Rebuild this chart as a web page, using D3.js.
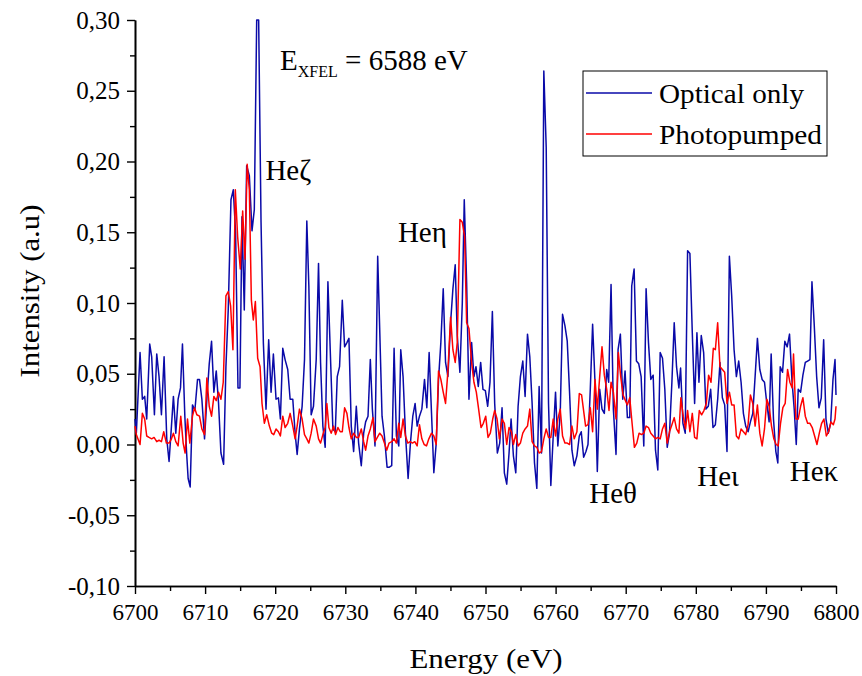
<!DOCTYPE html>
<html><head><meta charset="utf-8">
<script src="https://cdn.jsdelivr.net/npm/d3@7"></script>
<style>
body{margin:0;background:#fff}
svg text{font-family:"Liberation Serif","Times New Roman",serif !important;fill:#000}
</style>
</head><body>
<svg id="chart" width="862" height="676"></svg>
<script>
const optEnergy=[6700.00,6700.19,6700.72,6701.05,6701.38,6701.67,6702.10,6702.38,6702.77,6703.10,6703.43,6703.77,6704.15,6704.53,6704.86,6705.20,6705.48,6705.82,6706.15,6706.49,6706.77,6707.11,6707.34,6707.58,6707.87,6708.20,6708.54,6708.92,6709.20,6709.54,6709.92,6710.25,6710.59,6710.92,6711.25,6711.59,6711.92,6712.26,6712.64,6712.97,6713.30,6713.69,6714.02,6714.35,6714.69,6714.97,6715.26,6715.59,6715.93,6716.31,6716.69,6717.02,6717.36,6717.64,6717.98,6718.31,6718.69,6719.07,6719.41,6719.74,6720.12,6720.46,6720.74,6721.08,6721.41,6721.79,6722.13,6722.51,6722.84,6723.13,6723.46,6723.84,6724.18,6724.51,6724.80,6725.13,6725.46,6725.85,6726.18,6726.47,6726.80,6727.13,6727.52,6727.85,6728.23,6728.57,6728.85,6729.18,6729.57,6729.90,6730.23,6730.52,6730.85,6731.19,6731.57,6731.90,6732.28,6732.62,6732.90,6733.24,6733.57,6733.86,6734.24,6734.62,6734.91,6735.24,6735.58,6735.96,6736.29,6736.62,6736.96,6737.29,6737.63,6737.91,6738.24,6738.58,6738.96,6739.29,6739.63,6739.96,6740.25,6740.58,6740.92,6741.30,6741.63,6741.96,6742.30,6742.63,6742.97,6743.30,6743.63,6743.97,6744.30,6744.64,6745.02,6745.35,6745.68,6745.97,6746.35,6746.69,6746.97,6747.31,6747.64,6748.02,6748.35,6748.64,6748.97,6749.31,6749.64,6749.98,6750.31,6750.64,6750.98,6751.31,6751.69,6752.03,6752.36,6752.69,6753.03,6753.36,6753.65,6753.98,6754.32,6754.65,6754.98,6755.32,6755.65,6755.99,6756.32,6756.65,6756.99,6757.32,6757.65,6757.99,6758.32,6758.66,6758.99,6759.32,6759.66,6759.99,6760.32,6760.66,6760.99,6761.33,6761.66,6761.99,6762.33,6762.66,6763.04,6763.38,6763.66,6764.00,6764.33,6764.62,6764.95,6765.28,6765.62,6765.95,6766.29,6766.62,6766.95,6767.29,6767.57,6767.91,6768.24,6768.62,6768.91,6769.24,6769.58,6769.91,6770.24,6770.58,6770.86,6771.20,6771.53,6771.86,6772.20,6772.58,6772.91,6773.25,6773.58,6773.92,6774.25,6774.58,6774.92,6775.25,6775.58,6775.92,6776.25,6776.59,6776.92,6777.25,6777.59,6777.83,6778.16,6778.49,6778.83,6779.16,6779.50,6779.83,6780.16,6780.45,6780.78,6781.12,6781.45,6781.78,6782.12,6782.45,6782.79,6783.12,6783.45,6783.79,6784.12,6784.45,6784.79,6785.12,6785.46,6785.79,6786.12,6786.46,6786.79,6787.12,6787.46,6787.79,6788.13,6788.46,6788.79,6789.13,6789.46,6789.80,6790.13,6790.46,6790.75,6791.08,6791.42,6791.70,6792.04,6792.37,6792.70,6793.04,6793.37,6793.71,6794.04,6794.33,6794.61,6794.95,6795.28,6795.62,6795.95,6796.28,6796.57,6796.90,6797.24,6797.57,6797.90,6798.24,6798.57,6798.90,6799.24,6799.57,6799.86,6800.00];
const optIntensity=[0.018,0.008,0.065,0.032,0.034,0.018,0.071,0.062,0.021,0.064,0.048,0.021,0.062,0.004,-0.012,0.013,0.034,0.008,0.032,0.040,0.071,0.020,-0.004,-0.024,-0.030,0.028,0.024,0.046,0.046,0.032,0.004,0.032,0.057,0.073,0.037,0.052,0.029,-0.006,-0.014,0.055,0.095,0.173,0.180,0.150,0.040,0.040,0.161,0.095,0.197,0.190,0.151,0.166,0.300,0.300,0.157,0.072,0.025,0.074,0.037,0.064,0.032,0.033,0.018,0.068,0.060,0.053,0.032,0.032,0.008,-0.007,0.011,0.027,0.060,0.158,0.112,0.021,0.027,0.060,0.128,0.058,0.013,-0.002,0.115,0.067,0.011,0.009,0.048,0.055,0.102,0.069,0.072,0.075,0.013,-0.005,0.027,0.001,-0.015,0.008,0.016,0.020,0.060,0.025,-0.001,0.133,0.081,0.020,0.006,-0.016,-0.016,-0.015,0.068,0.006,-0.001,0.067,0.048,0.008,-0.024,0.001,0.020,0.029,0.013,0.020,0.025,0.046,0.026,0.065,0.022,-0.020,0.001,0.046,0.072,0.110,0.058,0.048,0.086,0.110,0.127,0.077,0.051,0.100,0.173,0.114,0.032,0.072,0.048,0.055,0.041,0.058,0.039,0.038,0.027,0.044,0.094,0.029,-0.006,0.001,0.026,-0.020,-0.028,-0.006,0.018,-0.008,-0.020,0.027,0.048,0.059,0.034,0.078,0.062,0.029,-0.013,-0.031,0.041,-0.006,0.264,0.210,0.029,-0.029,0.006,0.037,-0.001,0.022,0.092,0.084,0.073,0.037,-0.004,-0.015,-0.008,0.006,0.009,-0.009,-0.005,0.000,0.039,0.085,0.044,-0.019,0.039,0.025,0.022,0.053,0.044,0.113,0.025,-0.007,0.067,0.078,0.032,0.052,0.019,0.019,0.112,0.124,0.059,0.057,0.048,-0.001,0.110,0.072,0.046,0.049,-0.004,-0.018,0.065,0.061,0.039,-0.002,0.008,0.044,0.086,0.055,0.040,0.054,0.015,0.008,0.137,0.135,0.079,0.029,0.079,0.044,0.077,0.065,0.025,0.027,0.039,0.012,0.014,0.032,0.058,0.033,0.028,-0.005,0.133,0.105,0.067,0.048,0.059,0.044,0.022,0.013,0.009,0.016,0.022,0.048,0.075,0.053,0.046,0.044,0.029,0.016,0.064,0.018,-0.005,-0.013,0.055,0.051,0.073,0.069,0.078,0.046,0.025,0.000,0.039,0.037,0.049,0.058,0.059,0.060,0.115,0.084,0.048,0.026,0.033,0.074,0.018,0.008,0.015,0.046,0.060,0.035];
const pumpEnergy=[6700.00,6700.19,6700.72,6701.05,6701.38,6701.67,6702.00,6702.38,6702.72,6703.10,6703.43,6703.77,6704.10,6704.48,6704.86,6705.20,6705.48,6705.82,6706.15,6706.53,6706.87,6707.15,6707.49,6707.82,6708.20,6708.49,6708.82,6709.20,6709.54,6709.92,6710.25,6710.59,6710.92,6711.25,6711.59,6711.92,6712.26,6712.59,6712.97,6713.30,6713.64,6713.97,6714.31,6714.64,6715.02,6715.36,6715.69,6716.00,6716.31,6716.60,6716.88,6717.17,6717.50,6717.84,6718.12,6718.45,6718.79,6719.17,6719.50,6719.79,6720.12,6720.46,6720.74,6721.08,6721.41,6721.79,6722.13,6722.51,6722.84,6723.13,6723.46,6723.84,6724.18,6724.51,6724.80,6725.13,6725.46,6725.85,6726.18,6726.47,6726.80,6727.13,6727.37,6727.66,6727.99,6728.33,6728.61,6728.95,6729.28,6729.57,6729.90,6730.23,6730.52,6730.85,6731.19,6731.57,6731.90,6732.28,6732.62,6732.90,6733.24,6733.57,6733.95,6734.24,6734.57,6734.91,6735.24,6735.58,6735.91,6736.24,6736.62,6736.96,6737.29,6737.63,6737.91,6738.24,6738.58,6738.91,6739.25,6739.58,6739.91,6740.25,6740.58,6740.92,6741.25,6741.58,6741.92,6742.30,6742.63,6742.97,6743.30,6743.63,6743.97,6744.30,6744.64,6745.02,6745.35,6745.68,6745.97,6746.35,6746.69,6747.02,6747.31,6747.64,6748.02,6748.35,6748.69,6749.02,6749.36,6749.69,6750.03,6750.36,6750.69,6751.03,6751.31,6751.65,6751.98,6752.36,6752.69,6753.03,6753.36,6753.70,6753.98,6754.32,6754.65,6754.98,6755.32,6755.65,6755.99,6756.32,6756.65,6756.99,6757.32,6757.65,6757.99,6758.32,6758.66,6758.99,6759.32,6759.66,6759.99,6760.32,6760.66,6760.99,6761.33,6761.66,6761.99,6762.33,6762.66,6763.04,6763.38,6763.71,6764.28,6764.62,6764.95,6765.28,6765.62,6765.95,6766.29,6766.62,6766.95,6767.29,6767.62,6767.91,6768.24,6768.62,6768.95,6769.29,6769.62,6769.96,6770.24,6770.58,6770.91,6771.24,6771.58,6771.91,6772.25,6772.58,6772.91,6773.25,6773.58,6773.92,6774.25,6774.58,6774.92,6775.25,6775.58,6775.92,6776.25,6776.59,6776.92,6777.25,6777.59,6777.87,6778.21,6778.54,6778.83,6779.16,6779.50,6779.83,6780.16,6780.50,6780.83,6781.16,6781.50,6781.83,6782.17,6782.50,6782.79,6783.12,6783.45,6783.79,6784.12,6784.45,6784.79,6785.12,6785.46,6785.79,6786.12,6786.46,6786.79,6787.12,6787.46,6787.79,6788.13,6788.46,6788.79,6789.13,6789.46,6789.80,6790.13,6790.46,6790.80,6791.13,6791.46,6791.75,6792.09,6792.42,6792.75,6793.09,6793.42,6793.75,6793.94,6794.28,6794.61,6794.95,6795.28,6795.62,6795.95,6796.28,6796.61,6796.95,6797.28,6797.62,6797.95,6798.28,6798.62,6798.95,6799.28,6799.62,6799.86,6800.00];
const pumpIntensity=[0.013,0.007,0.000,0.022,0.018,0.006,0.005,0.004,0.005,0.002,0.003,0.002,0.009,0.001,0.001,0.004,0.008,0.002,-0.001,0.020,0.001,-0.006,0.018,0.001,0.020,0.026,0.021,0.020,0.011,0.007,0.047,0.027,0.020,0.034,0.031,0.037,0.032,0.044,0.105,0.108,0.098,0.067,0.180,0.147,0.124,0.165,0.131,0.198,0.180,0.102,0.088,0.101,0.061,0.055,0.029,0.015,0.021,0.013,0.008,0.007,0.011,0.009,0.006,0.020,0.012,0.015,0.022,0.013,0.004,0.013,0.025,0.018,0.007,0.004,0.001,0.008,0.018,0.013,0.004,0.001,0.007,0.012,0.029,0.012,0.008,0.013,0.007,0.012,0.009,0.009,0.026,0.022,0.012,0.004,0.008,0.005,0.005,0.011,0.002,-0.004,0.006,0.011,0.019,0.002,0.005,0.008,0.006,0.001,-0.004,0.001,0.002,0.004,0.001,0.015,0.005,0.018,0.006,0.001,0.002,0.001,0.002,-0.001,0.014,0.004,0.000,-0.001,0.004,0.008,0.006,0.000,0.052,0.046,0.037,0.029,0.052,0.090,0.067,0.058,0.072,0.159,0.157,0.147,0.086,0.082,0.058,0.044,0.037,0.025,0.012,0.015,0.020,0.005,0.008,0.018,0.024,0.018,0.004,0.018,0.015,0.000,0.012,0.009,0.000,0.007,-0.001,0.001,0.008,0.011,0.013,0.025,0.002,-0.001,-0.002,-0.006,-0.005,0.004,0.011,0.005,0.005,0.018,0.006,0.018,0.025,0.006,0.001,0.001,0.000,0.013,0.004,0.009,0.036,0.035,0.013,0.014,0.026,0.009,0.046,0.025,0.048,0.069,0.049,0.039,0.024,0.044,0.037,0.018,0.065,0.048,0.035,0.031,0.028,0.033,0.015,-0.002,0.001,0.008,0.007,0.008,0.013,0.012,0.008,0.006,0.004,0.005,0.004,0.011,0.015,0.001,0.009,0.014,0.019,0.011,0.008,0.033,0.020,0.011,0.024,0.009,0.022,0.005,0.004,0.024,0.021,0.024,0.029,0.049,0.044,0.068,0.067,0.086,0.055,0.053,0.051,0.029,0.037,0.028,0.028,0.006,0.004,0.011,0.009,0.007,0.014,0.035,0.029,0.013,0.028,0.008,-0.001,0.011,0.032,0.027,0.013,0.004,0.000,-0.001,0.015,0.026,0.029,0.053,0.044,0.040,0.064,0.018,0.018,0.027,0.033,0.020,0.015,0.015,0.012,0.006,0.000,0.008,0.015,0.018,0.006,0.009,0.016,0.014,0.018,0.027];
const xTicks=[6700,6710,6720,6730,6740,6750,6760,6770,6780,6790,6800];
const xMinorTicks=[6705,6715,6725,6735,6745,6755,6765,6775,6785,6795];
const yTicks=[-0.10,-0.05,0.00,0.05,0.10,0.15,0.20,0.25,0.30];
const yMinorTicks=[-0.075,-0.025,0.025,0.075,0.125,0.175,0.225,0.275];
const seriesNames=["Optical only","Photopumped"];
const seriesColors=["#0a0aa8","#ff0000"];
const lineLabels=["Heζ","Heη","Heθ","Heι","Heκ"];
const lineLabelEnergy=[6718.6,6737.5,6764.8,6780.2,6793.4];
const lineLabelIntensity=[0.187,0.143,-0.041,-0.029,-0.026];

const FONT="'Liberation Serif','Times New Roman',serif";
const svg=d3.select("#chart");
const x=d3.scaleLinear().domain([6700,6800]).range([135,836]);
const y=d3.scaleLinear().domain([-0.10,0.30]).range([586,20]);
const fmt=v=>(v<-1e-9?"-":"")+Math.abs(v).toFixed(2).replace(".",",");

// axes
const gx=svg.append("g").attr("transform","translate(0,586)")
  .call(d3.axisBottom(x).tickValues(xTicks).tickSize(8).tickSizeOuter(0).tickPadding(10).tickFormat(d=>d));
svg.append("g").attr("transform","translate(0,586)")
  .call(d3.axisBottom(x).tickValues(xMinorTicks).tickSize(5).tickSizeOuter(0).tickFormat(""));
const gy=svg.append("g").attr("transform","translate(135,0)")
  .call(d3.axisLeft(y).tickValues(yTicks).tickSize(8).tickSizeOuter(0).tickPadding(7).tickFormat(fmt));
svg.append("g").attr("transform","translate(135,0)")
  .call(d3.axisLeft(y).tickValues(yMinorTicks).tickSize(5).tickSizeOuter(0).tickFormat(""));
svg.selectAll("g").attr("font-family",FONT);
svg.selectAll(".domain").attr("stroke","#000").attr("stroke-width",1.6);
svg.selectAll(".tick line").attr("stroke","#000").attr("stroke-width",1.4);
gx.selectAll(".tick text").style("font-family",FONT).attr("font-size",23).attr("fill","#000");
gy.selectAll(".tick text").style("font-family",FONT).attr("font-size",25).attr("fill","#000");

// lines
const line=d3.line().x(d=>x(d[0])).y(d=>y(d[1]));
const optData=optEnergy.map((e,i)=>[e,optIntensity[i]]);
const pumpData=pumpEnergy.map((e,i)=>[e,pumpIntensity[i]]);
svg.append("path").datum(optData).attr("d",line).attr("fill","none")
  .attr("stroke",seriesColors[0]).attr("stroke-width",1.5).attr("stroke-linejoin","round");
svg.append("path").datum(pumpData).attr("d",line).attr("fill","none")
  .attr("stroke",seriesColors[1]).attr("stroke-width",1.5).attr("stroke-linejoin","round");

// axis titles
svg.append("text").attr("x",486).attr("y",668).attr("text-anchor","middle").style("font-family",FONT)
  .attr("font-size",27).attr("textLength",153).attr("lengthAdjust","spacingAndGlyphs").text("Energy (eV)");
svg.append("text").attr("transform","translate(39,291) rotate(-90)").attr("text-anchor","middle").style("font-family",FONT)
  .attr("font-size",27).attr("textLength",173).attr("lengthAdjust","spacingAndGlyphs").text("Intensity (a.u)");

// annotations
lineLabels.forEach((t,i)=>{
  svg.append("text").attr("x",x(lineLabelEnergy[i])).attr("y",y(lineLabelIntensity[i]))
    .style("font-family",FONT).attr("font-size",29).text(t);
});
const ex=svg.append("text").attr("x",x(6720.7)).attr("y",y(0.265)).style("font-family",FONT).attr("font-size",29);
ex.append("tspan").text("E");
ex.append("tspan").attr("font-size",16).attr("dy",7).text("XFEL");
ex.append("tspan").attr("dy",-7).text(" = 6588 eV");

// legend
const lg=svg.append("g");
lg.append("rect").attr("x",583).attr("y",71).attr("width",244).attr("height",85)
  .attr("fill","#fff").attr("stroke","#000").attr("stroke-width",1);
seriesNames.forEach((n,i)=>{
  const yy=93+i*41;
  lg.append("line").attr("x1",586).attr("x2",652).attr("y1",yy).attr("y2",yy)
    .attr("stroke",seriesColors[i]).attr("stroke-width",1.5);
  lg.append("text").attr("x",659).attr("y",yy+10).style("font-family",FONT).attr("font-size",27)
    .attr("textLength",i===0?145:163).attr("lengthAdjust","spacingAndGlyphs").text(n);
});
</script>
</body></html>
